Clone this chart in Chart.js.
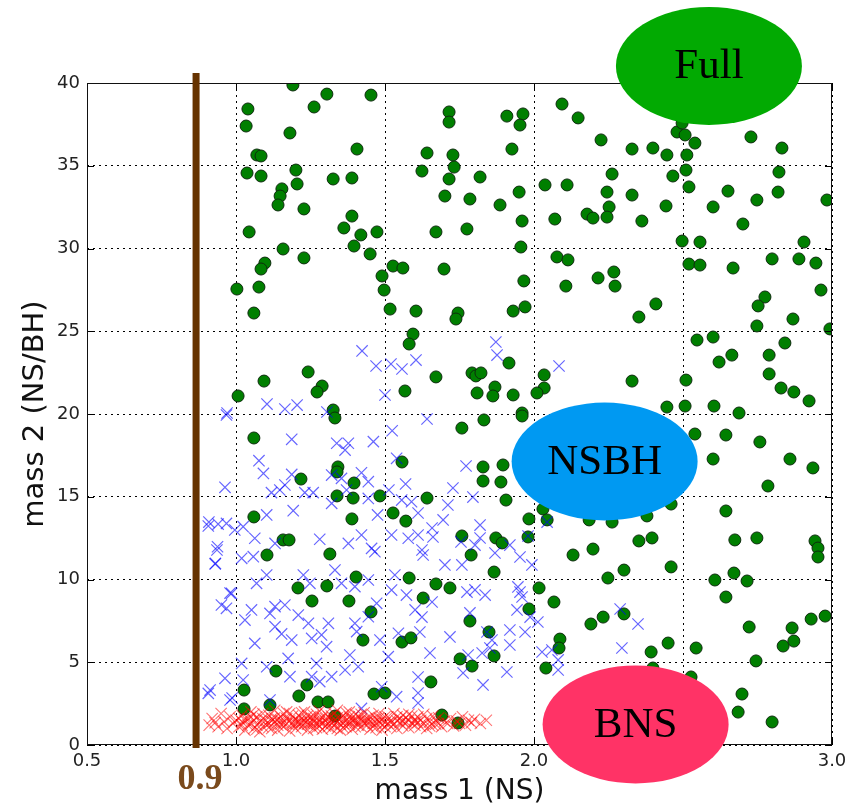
<!DOCTYPE html>
<html lang="en">
<head>
<meta charset="UTF-8">
<title>mass 1 vs mass 2</title>
<script src="https://cdn.jsdelivr.net/npm/chart.js@4.4.1/dist/chart.umd.min.js"></script>
<style>
  body { margin: 0; background: #fff; }
  .chart-container { width: 856px; height: 809px; }
</style>
</head>
<body>

<!--chart canvas start-->
<div class="chart-container">
  <canvas id="chart" width="856" height="809"></canvas>
</div>
<!--chart canvas end-->

<script>
// axis ticks
const xTicks = [0.5, 1.0, 1.5, 2.0, 2.5, 3.0];
const xTickLabels = ['0.5', '1.0', '1.5', '2.0', '2.5', '3.0'];
const yTicks = [0, 5, 10, 15, 20, 25, 30, 35, 40];
const yTickLabels = ['0', '5', '10', '15', '20', '25', '30', '35', '40'];

// full sample (green circles)
const fullMass1 = [
  1.191,1.040,1.034,1.262,1.305,1.453,1.181,1.406,1.070,1.084,
  1.037,1.084,1.201,1.205,1.326,1.389,1.154,1.148,1.141,1.228,
  1.389,1.362,1.419,1.473,1.044,1.158,1.396,1.450,1.228,1.097,
  1.084,1.003,1.077,1.060,1.490,1.497,1.527,1.560,1.517,1.604,
  1.594,1.581,1.242,1.094,1.007,1.289,1.272,1.567,1.326,1.332,
  1.715,1.715,1.909,1.963,1.953,2.094,2.148,2.225,2.329,1.641,
  1.728,1.732,1.926,1.624,1.715,1.819,1.701,1.785,1.886,1.950,
  1.960,1.671,1.775,1.956,2.037,2.111,2.262,2.245,2.252,2.178,
  2.198,2.245,2.070,2.329,2.077,2.114,1.698,1.966,2.215,2.268,
  2.272,2.107,1.745,1.738,1.930,1.970,1.916,1.671,1.792,1.805,
  1.822,1.869,1.862,1.809,1.930,2.034,2.034,2.010,2.329,1.960,
  2.480,2.507,2.540,2.497,2.399,2.446,2.513,2.728,2.832,2.510,
  2.466,2.520,2.443,2.362,2.601,2.651,2.748,2.819,2.822,2.983,
  2.701,2.497,2.557,2.520,2.557,2.668,2.799,2.889,2.906,2.946,
  2.963,2.775,2.752,2.409,2.352,2.869,2.748,2.993,2.547,2.601,
  2.842,2.664,2.621,2.789,2.789,2.829,2.872,2.923,2.510,2.446,
  2.507,2.604,2.688,2.540,2.644,2.758,2.601,2.859,2.936,2.785,
  2.460,2.379,2.644,2.352,2.396,2.674,2.748,2.943,2.953,2.953,
  2.460,2.607,2.671,2.715,2.644,2.722,2.866,2.930,2.977,2.836,
  2.872,2.450,2.393,2.544,2.745,2.527,2.399,2.698,2.685,2.799,
  1.832,1.960,1.758,1.829,1.829,1.896,1.889,1.641,1.906,2.030,
  2.044,1.983,1.980,2.185,2.262,1.758,1.872,1.893,1.789,2.131,
  2.198,1.866,2.248,2.302,1.671,1.718,2.017,1.628,2.067,1.983,
  2.232,2.191,2.302,1.785,1.849,2.087,2.084,1.866,1.752,1.792,
  2.040,1.654,1.691,1.745,1.060,1.342,1.339,1.557,1.218,1.396,
  1.339,1.393,1.483,1.527,1.570,1.060,1.389,1.158,1.178,1.104,
  1.315,1.403,1.581,1.208,1.305,1.255,1.379,1.453,1.426,1.557,
  1.587,1.134,1.027,1.238,1.211,1.275,1.309,1.463,1.500,1.027,
  1.114,1.332
];
const fullMass2 = [
  39.88,38.43,37.40,38.55,39.33,39.27,36.98,36.01,35.65,35.59,
  34.56,34.38,34.74,33.90,34.20,34.26,33.60,33.17,32.63,32.39,
  31.96,31.24,30.82,31.00,31.00,29.97,30.15,29.67,29.43,29.12,
  28.76,27.55,27.67,26.10,28.34,27.49,28.94,28.82,26.34,26.22,
  24.83,24.23,22.54,21.99,21.09,21.69,21.33,21.39,20.24,19.76,
  38.25,37.64,38.00,38.13,37.46,38.73,37.89,36.56,36.01,35.77,
  35.65,34.92,36.01,34.68,34.20,34.32,33.17,32.99,32.63,33.41,
  31.66,31.00,31.18,30.09,33.84,33.84,34.50,33.41,32.51,32.08,
  31.84,31.90,31.78,33.23,29.49,29.31,28.76,28.04,28.22,28.58,
  27.73,27.73,26.10,25.74,26.22,26.47,23.08,22.24,22.48,22.30,
  22.48,21.63,21.09,21.27,21.15,22.36,21.57,21.27,21.99,20.06,
  37.04,36.86,36.37,37.58,36.07,35.65,35.65,36.74,36.07,34.74,
  34.38,33.72,32.57,31.66,32.51,33.47,32.93,33.41,34.62,32.93,
  31.48,30.45,30.39,29.06,29.00,28.82,29.37,29.37,30.39,29.12,
  27.49,27.07,26.53,26.65,25.86,25.74,25.32,25.14,24.47,24.65,
  24.29,23.56,23.14,23.56,22.42,21.57,21.33,20.79,22.05,20.42,
  20.48,20.48,20.06,18.79,18.73,18.31,17.28,17.28,16.74,15.65,
  14.56,13.84,14.14,12.33,12.51,12.39,12.51,12.33,11.90,11.36,
  10.76,9.97,10.39,9.91,8.94,7.13,7.07,7.61,7.79,5.98,
  6.28,6.16,5.62,5.86,5.08,4.11,4.65,3.08,1.99,1.39,
  19.64,19.88,19.15,16.80,15.95,16.92,15.89,14.92,14.80,14.26,
  13.60,13.66,12.57,13.60,13.47,12.63,12.51,12.21,11.48,11.48,
  11.84,10.45,10.09,10.57,9.73,9.49,9.49,8.88,8.64,8.22,
  7.73,7.31,7.92,7.49,6.83,6.40,5.86,5.38,5.20,4.77,
  4.65,3.81,1.81,1.33,18.55,16.80,16.50,17.10,16.07,15.83,
  15.05,14.92,15.05,14.02,13.53,13.78,13.66,12.39,12.39,11.48,
  11.54,10.15,10.09,9.49,9.61,8.70,8.70,8.04,6.34,6.22,
  6.47,4.47,3.32,3.63,2.96,2.60,2.60,3.08,3.14,2.18,
  2.42,1.75
];

// NSBH sample (blue crosses)
const nsbhMass1 = [
  0.968,1.187,1.338,1.377,1.366,1.461,1.524,1.539,1.077,1.092,
  0.963,1.187,1.164,1.147,1.119,1.231,1.259,1.321,1.354,1.421,
  1.444,1.371,1.321,1.444,1.475,1.513,1.569,1.556,1.589,0.907,
  0.940,0.968,0.996,1.024,1.063,1.103,1.192,1.131,1.281,1.377,
  1.421,1.455,1.466,1.522,1.578,0.938,0.931,1.019,1.058,1.103,
  1.069,1.226,1.248,1.332,1.354,1.399,1.444,1.533,1.522,1.572,
  0.951,0.968,0.985,1.030,1.052,1.114,1.131,1.164,1.209,1.243,
  1.131,1.153,1.187,1.254,1.287,1.310,1.304,1.399,1.405,1.472,
  1.444,1.382,1.410,1.483,1.511,1.545,1.175,1.270,1.321,1.366,
  1.181,1.254,1.281,1.103,1.024,0.963,0.907,0.980,1.114,1.421,
  1.489,1.539,1.063,1.019,0.936,0.930,0.980,0.913,0.987,0.909,
  1.423,1.470,1.520,1.557,1.604,1.500,1.104,1.164,1.205,0.970,
  1.305,1.872,1.876,2.084,1.641,1.772,1.728,1.795,1.711,1.611,
  1.658,1.661,1.695,1.819,1.819,1.802,1.755,1.869,1.953,1.993,
  1.919,1.701,1.758,1.628,1.624,1.611,1.775,1.802,1.836,1.946,
  1.960,1.943,1.987,2.013,1.785,1.624,1.658,1.601,1.617,1.718,
  1.842,1.859,1.852,1.919,1.919,1.970,1.651,1.779,1.826,2.027,
  2.060,2.081,2.081,1.762,1.909,1.829,1.611,1.611,1.611,2.289,
  2.295,1.953,2.044,1.980,2.349
];
const nsbhMass2 = [
  19.94,18.47,18.23,18.23,17.82,18.33,18.99,17.32,17.18,16.41,
  15.57,16.35,15.71,15.41,15.25,15.25,15.25,16.31,16.11,16.45,
  15.91,15.41,14.60,14.90,13.90,15.41,15.77,14.80,14.70,13.23,
  13.35,13.39,12.99,13.19,12.49,13.90,14.16,12.18,12.43,12.18,
  12.69,11.88,11.68,12.69,12.49,11.98,10.97,11.28,11.38,10.27,
  9.77,10.27,9.77,10.57,9.77,9.57,9.97,10.27,9.36,9.06,
  8.46,8.26,9.16,7.55,8.16,7.95,8.36,8.46,7.85,7.35,
  7.15,6.71,6.34,6.44,6.65,7.35,5.94,7.35,6.85,8.56,
  7.75,5.44,4.73,6.34,5.34,6.75,5.23,4.93,4.13,4.53,
  4.13,4.13,3.83,4.73,3.93,4.03,3.12,2.72,2.72,2.21,
  3.52,2.92,6.14,4.93,11.78,10.94,9.18,3.32,2.84,13.47,
  23.81,22.90,23.02,22.72,23.26,21.15,20.60,20.30,20.54,20.06,
  20.12,24.35,23.56,22.90,19.70,16.86,15.53,14.98,14.50,14.02,
  13.11,12.57,13.60,13.29,12.51,12.08,12.27,11.60,11.36,10.88,
  12.08,10.88,10.88,11.48,11.78,12.69,9.24,9.37,9.06,9.55,
  8.94,8.16,7.73,7.43,7.98,7.73,8.64,8.16,6.83,6.53,
  6.83,6.34,5.86,6.95,6.04,6.83,5.56,5.44,5.56,5.62,
  5.74,5.14,4.53,4.35,4.41,3.63,4.11,3.14,2.54,8.22,
  5.86,9.24,13.47,12.63,7.31
];

// BNS sample (red crosses)
const bnsMass1 = [
  0.91,0.92,0.94,0.95,0.96,0.97,0.98,0.99,1.00,0.93,
  1.01,1.02,1.02,1.03,1.04,1.04,1.05,1.05,1.06,1.06,
  1.07,1.07,1.08,1.08,1.09,1.09,1.10,1.03,1.01,1.05,
  1.07,1.09,1.02,1.06,1.10,
  1.11,1.11,1.12,1.12,1.13,1.13,1.14,1.14,1.15,1.15,
  1.16,1.16,1.17,1.17,1.18,1.18,1.19,1.19,1.20,1.20,
  1.11,1.13,1.15,1.17,1.19,1.12,1.14,1.16,1.18,1.20,
  1.21,1.21,1.22,1.22,1.23,1.23,1.24,1.24,1.25,1.25,
  1.26,1.26,1.27,1.27,1.28,1.28,1.29,1.29,1.30,1.30,
  1.21,1.22,1.23,1.24,1.25,1.26,1.27,1.28,1.29,1.30,
  1.22,1.24,1.26,1.28,1.30,
  1.31,1.31,1.32,1.32,1.33,1.33,1.34,1.34,1.35,1.35,
  1.36,1.36,1.37,1.37,1.38,1.38,1.39,1.39,1.40,1.40,
  1.31,1.32,1.33,1.34,1.35,1.36,1.37,1.38,1.39,1.40,
  1.32,1.34,1.36,1.38,1.40,
  1.41,1.41,1.42,1.42,1.43,1.43,1.44,1.44,1.45,1.45,
  1.46,1.46,1.47,1.47,1.48,1.48,1.49,1.49,1.50,1.50,
  1.41,1.43,1.45,1.47,1.49,1.42,1.44,1.46,1.48,1.50,
  1.51,1.51,1.52,1.52,1.53,1.53,1.54,1.54,1.55,1.55,
  1.56,1.56,1.57,1.57,1.58,1.58,1.59,1.59,1.60,1.60,
  1.52,1.54,1.56,1.58,1.60,
  1.61,1.61,1.62,1.62,1.63,1.64,1.64,1.65,1.66,1.66,
  1.67,1.68,1.68,1.69,1.70,1.63,1.65,1.67,
  1.71,1.72,1.73,1.74,1.75,1.76,1.77,1.78,1.79,1.80,
  1.82,1.84
];
const bnsMass2 = [
  1.20,1.60,1.10,1.90,1.40,1.00,1.70,1.30,1.50,1.35,
  1.10,1.80,1.40,0.90,1.60,1.20,2.00,1.30,1.50,1.00,
  1.70,1.20,1.40,0.80,1.90,1.10,1.50,1.50,1.60,1.70,
  0.95,1.60,1.20,1.85,1.25,
  1.30,1.80,1.00,1.60,1.40,2.10,1.20,0.90,1.70,1.50,
  1.10,1.90,1.30,1.60,0.85,1.45,1.75,1.20,1.55,1.00,
  1.05,1.65,1.25,2.00,1.35,1.45,1.55,1.35,1.90,1.30,
  1.40,1.80,1.10,1.60,1.30,2.00,0.90,1.50,1.20,1.70,
  1.40,1.00,1.85,1.30,1.55,1.15,1.65,0.95,1.45,1.90,
  1.25,1.95,1.50,1.75,1.35,1.60,1.05,2.05,1.30,1.15,
  1.35,1.25,1.80,1.40,1.60,
  1.30,1.70,1.00,1.50,1.90,1.20,1.40,2.10,0.90,1.60,
  1.30,1.80,1.10,1.50,1.70,1.25,1.45,0.95,1.35,1.85,
  1.10,1.75,1.45,1.00,1.25,1.55,1.95,1.40,1.65,1.10,
  1.30,1.65,1.05,2.00,1.50,
  1.40,1.75,1.10,1.55,1.30,1.95,1.20,1.60,0.95,1.45,
  1.80,1.30,1.05,1.60,1.40,1.90,1.20,1.55,1.35,1.70,
  1.20,1.50,1.70,1.35,0.90,1.85,1.40,1.10,1.65,1.10,
  1.30,1.70,1.10,1.50,1.90,1.25,1.45,1.00,1.60,1.35,
  1.80,1.15,1.40,1.65,1.05,1.50,1.30,1.75,1.20,1.55,
  1.35,1.70,1.45,1.85,1.40,
  1.35,1.70,1.10,1.50,1.30,1.60,1.00,1.40,1.75,1.20,
  1.50,1.30,1.65,1.10,1.45,1.85,1.15,1.25,
  1.30,1.60,1.15,1.45,1.30,1.70,1.20,1.50,1.35,1.55,
  1.30,1.50
];

// cutoff line and region labels
const cutoffMass = 0.866;
const cutoffLabel = '0.9';
const regionNames = ['Full', 'NSBH', 'BNS'];
const regionMass1 = [2.587, 2.237, 2.341];
const regionMass2 = [41.03, 17.13, 1.24];

const regionColors = ['#02aa02', '#0099f2', '#ff3366'];

function zip(xs, ys) {
  return xs.map((v, i) => ({ x: v, y: ys[i] }));
}

// overlay: frame, inward ticks, cutoff line, region ellipses
const overlay = {
  id: 'overlay',
  afterDatasetsDraw(chart) {
    const { ctx, chartArea: a, scales: { x, y } } = chart;
    ctx.save();

    // inward tick marks
    ctx.strokeStyle = '#000';
    ctx.lineWidth = 1;
    ctx.beginPath();
    xTicks.forEach(v => {
      const px = Math.round(x.getPixelForValue(v)) + 0.5;
      ctx.moveTo(px, a.bottom); ctx.lineTo(px, a.bottom - 7);
      ctx.moveTo(px, a.top); ctx.lineTo(px, a.top + 7);
    });
    yTicks.forEach(v => {
      const py = Math.round(y.getPixelForValue(v)) + 0.5;
      ctx.moveTo(a.left, py); ctx.lineTo(a.left + 7, py);
      ctx.moveTo(a.right, py); ctx.lineTo(a.right - 7, py);
    });
    ctx.stroke();

    // frame
    ctx.strokeStyle = '#111';
    ctx.strokeRect(Math.round(a.left) + 0.5, Math.round(a.top) + 0.5,
                   Math.round(a.width) - 1, Math.round(a.height) - 1);

    // cutoff line
    const cx = x.getPixelForValue(cutoffMass);
    ctx.strokeStyle = '#663300';
    ctx.lineWidth = 7;
    ctx.beginPath();
    ctx.moveTo(cx, a.top - 10);
    ctx.lineTo(cx, a.bottom + 3);
    ctx.stroke();

    ctx.fillStyle = '#7a4a1c';
    ctx.font = 'bold 36px "Liberation Serif"';
    ctx.textAlign = 'center';
    ctx.textBaseline = 'middle';
    ctx.fillText(cutoffLabel, cx + 4, a.bottom + 35);

    // region ellipses
    regionNames.forEach((name, i) => {
      const ex = x.getPixelForValue(regionMass1[i]);
      const ey = y.getPixelForValue(regionMass2[i]);
      ctx.fillStyle = regionColors[i];
      ctx.beginPath();
      ctx.ellipse(ex, ey, 93, 59, 0, 0, Math.PI * 2);
      ctx.fill();
      ctx.fillStyle = '#000';
      ctx.font = '43px "Liberation Serif"';
      ctx.fillText(name, ex, ey + 1);
    });

    ctx.restore();
  }
};

const ctx = document.getElementById('chart').getContext('2d');

const myChart = new Chart(ctx, {
  type: 'scatter',
  data: {
    datasets: [
      {
        label: 'BNS',
        data: zip(bnsMass1, bnsMass2),
        order: 1,
        pointStyle: 'crossRot',
        pointRadius: 8,
        borderWidth: 1.1,
        borderColor: 'rgba(255, 0, 0, 0.55)',
        backgroundColor: 'rgba(255, 0, 0, 0.55)'
      },
      {
        label: 'NSBH',
        data: zip(nsbhMass1, nsbhMass2),
        order: 2,
        pointStyle: 'crossRot',
        pointRadius: 8,
        borderWidth: 1.2,
        borderColor: 'rgba(0, 0, 255, 0.6)',
        backgroundColor: 'rgba(0, 0, 255, 0.6)'
      },
      {
        label: 'Full',
        data: zip(fullMass1, fullMass2),
        order: 3,
        pointStyle: 'circle',
        pointRadius: 6,
        borderWidth: 1,
        borderColor: '#0d2b0d',
        backgroundColor: '#007f00'
      }
    ]
  },
  options: {
    responsive: false,
    animation: false,
    events: [],
    layout: { padding: { top: 83, right: 24, left: 0, bottom: 0 } },
    plugins: {
      legend: { display: false },
      tooltip: { enabled: false }
    },
    scales: {
      x: {
        type: 'linear',
        min: 0.5,
        max: 3.0,
        afterBuildTicks: s => { s.ticks = xTicks.map(v => ({ value: v })); },
        afterFit: s => { s.height = 64; },
        ticks: {
          callback: (v, i) => xTickLabels[i],
          font: { family: 'DejaVu Sans', size: 18 },
          color: '#222',
          padding: 6,
          maxRotation: 0,
          autoSkip: false
        },
        grid: { color: '#000', lineWidth: 1, drawTicks: false },
        border: { display: false, dash: [2, 4] },
        title: {
          display: true,
          text: 'mass 1 (NS)',
          font: { family: 'DejaVu Sans', size: 28, lineHeight: 1.2 },
          color: '#111',
          padding: { top: 0, bottom: 0 }
        }
      },
      y: {
        type: 'linear',
        min: 0,
        max: 40,
        afterBuildTicks: s => { s.ticks = yTicks.map(v => ({ value: v })); },
        afterFit: s => { s.width = 87; },
        ticks: {
          callback: (v, i) => yTickLabels[i],
          font: { family: 'DejaVu Sans', size: 18 },
          color: '#222',
          padding: 7
        },
        grid: { color: '#000', lineWidth: 1, drawTicks: false },
        border: { display: false, dash: [2, 4] },
        title: {
          display: true,
          text: 'mass 2 (NS/BH)',
          font: { family: 'DejaVu Sans', size: 29, lineHeight: 1.2 },
          color: '#111',
          padding: { top: 18, bottom: 0 }
        }
      }
    }
  },
  plugins: [overlay]
});
</script>

</body>
</html>
